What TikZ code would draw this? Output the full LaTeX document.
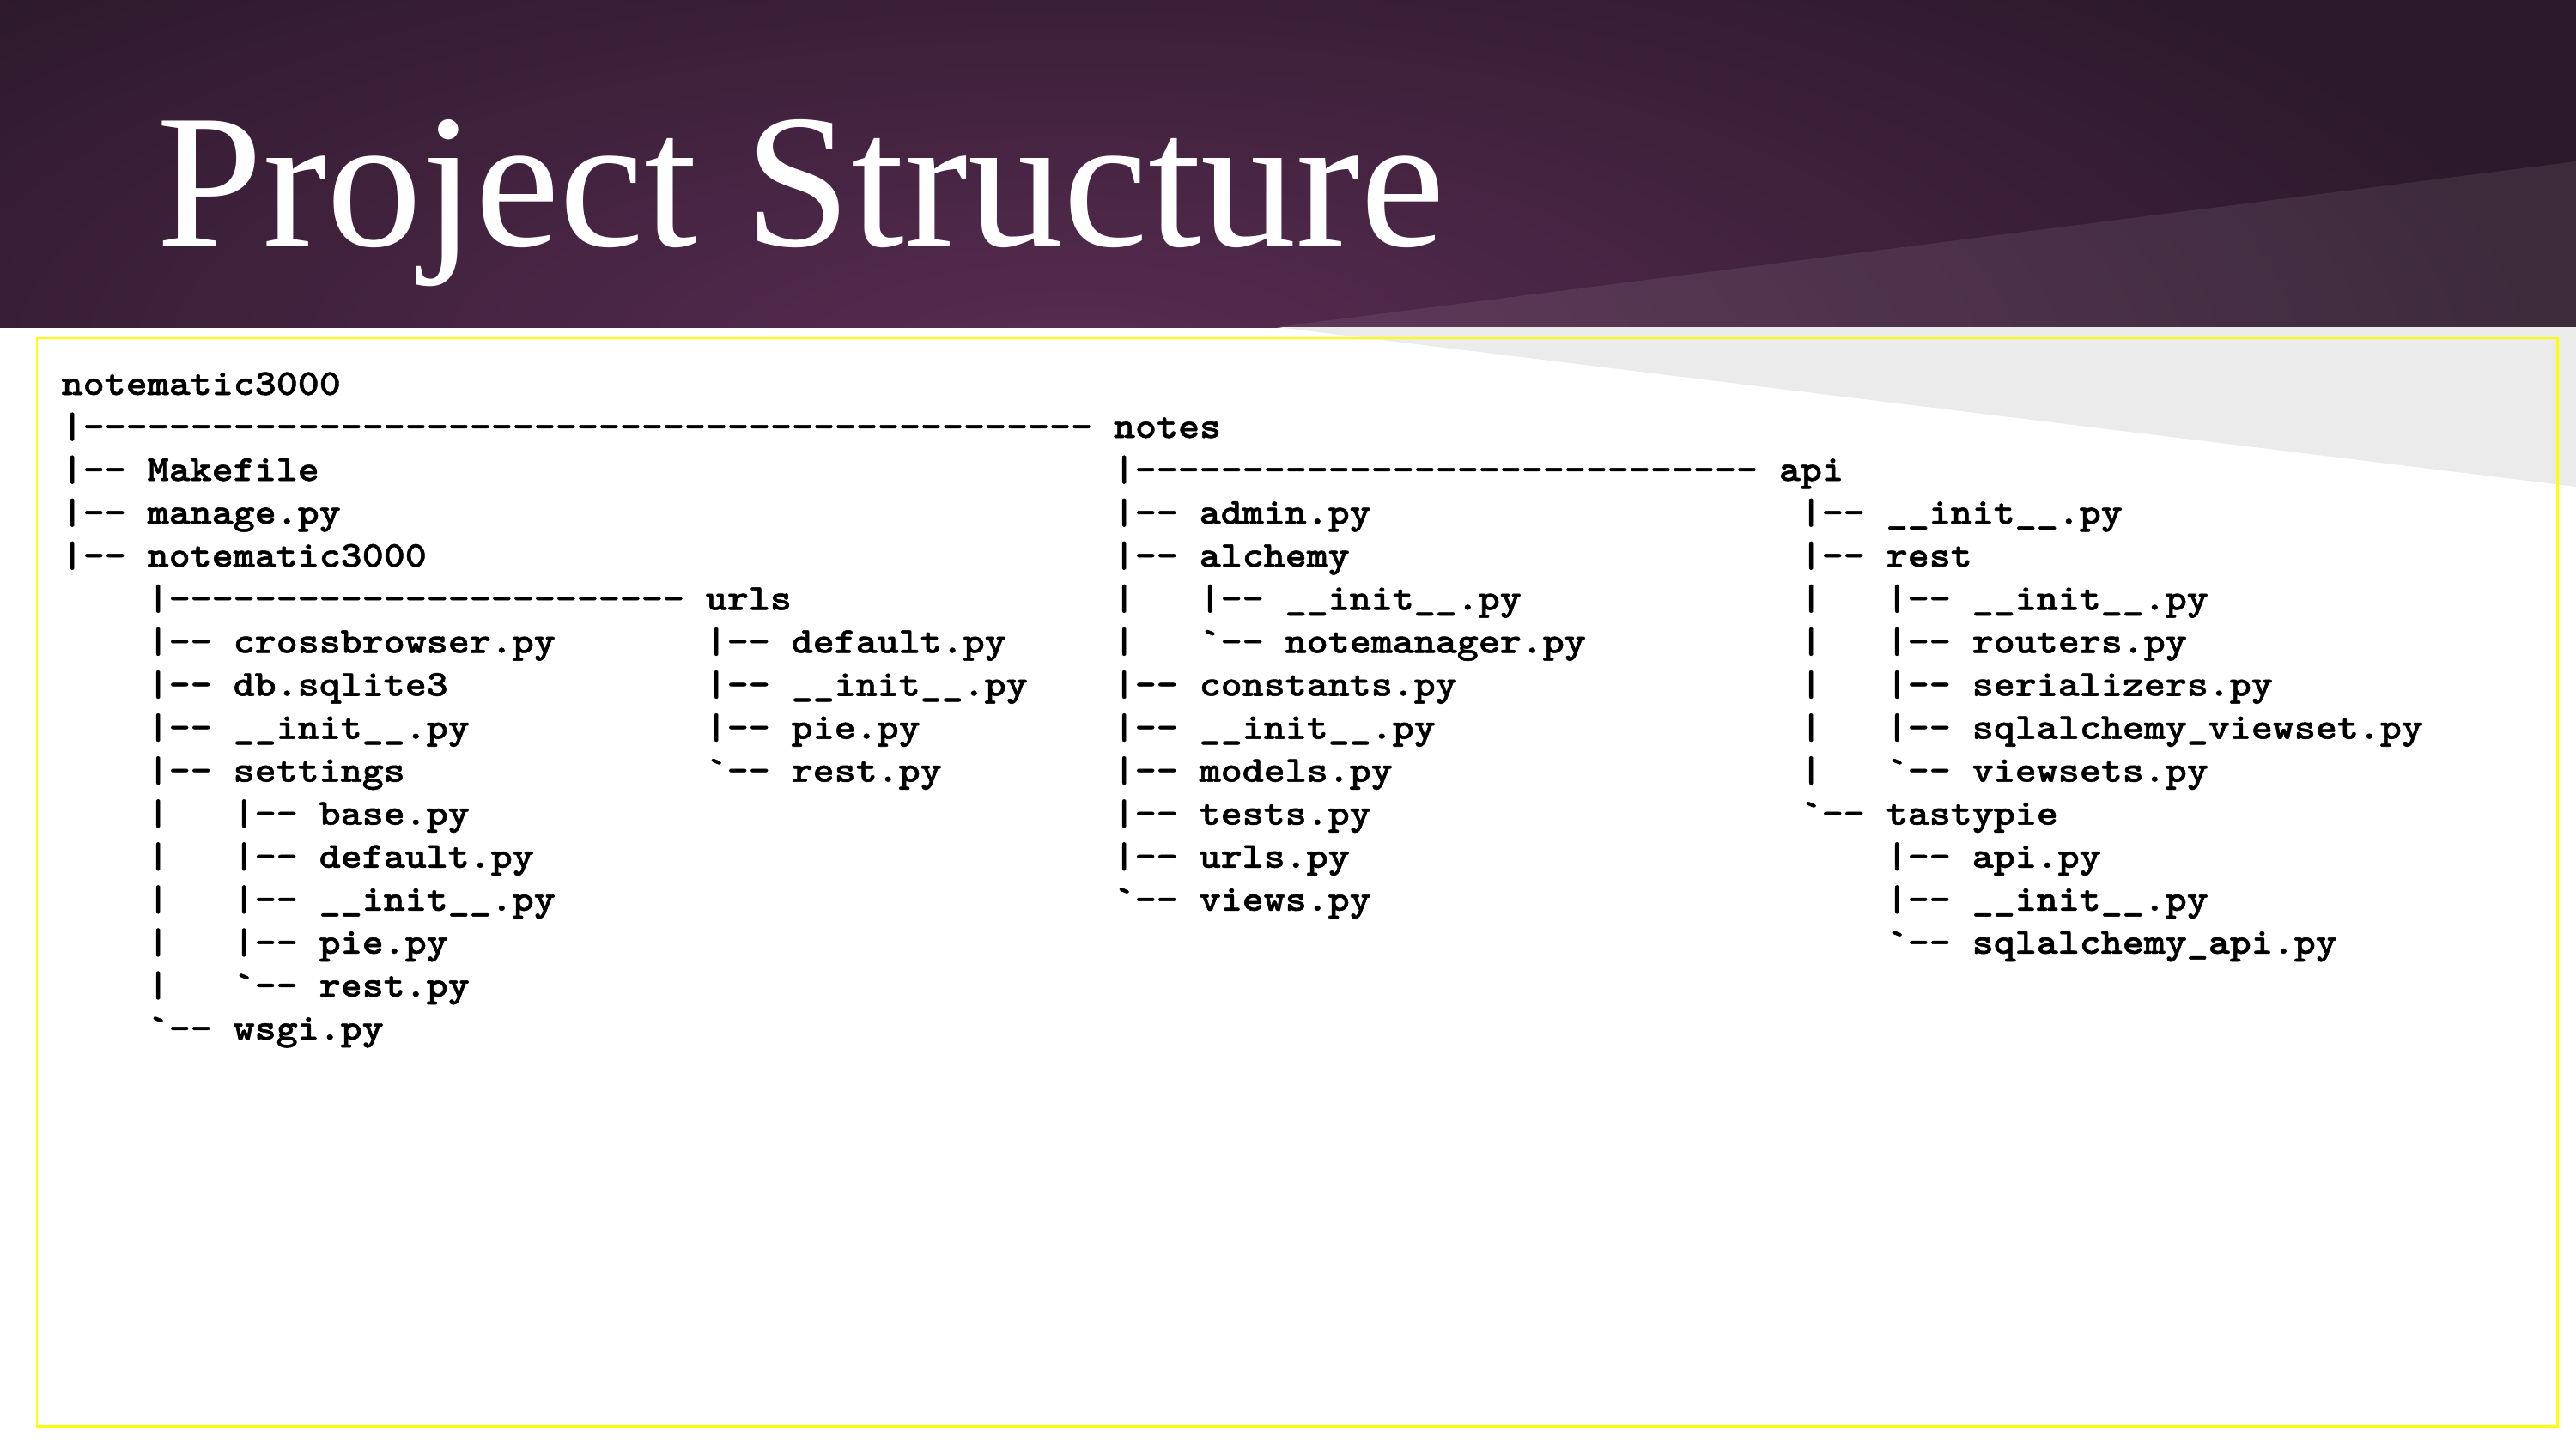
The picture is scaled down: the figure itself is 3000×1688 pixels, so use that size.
\documentclass[tikz,border=0pt]{standalone}
\usepackage{fontspec}
\setmainfont{Liberation Serif}
% typewriter face for the listing, widened to a 0.6em pitch and darkened
\newfontfamily\listfont{lmmonolt10-bold.otf}[FakeStretch=1.1204, FakeBold=1.2]
\definecolor{hdrdark}{RGB}{44,25,43}
\definecolor{hdrlight}{RGB}{88,44,82}
\definecolor{wedge}{RGB}{235,235,235}
\definecolor{frame}{RGB}{255,255,0}
\frenchspacing
% one line of the directory listing: name, column, row, text
\newcommand\treeline[4]{\node[treetext] (#1) at ({71+25*#2},{460+50.07*#3}) {#4};}
\begin{document}
\begin{tikzpicture}[x=0.01cm,y=-0.01cm,
  treetext/.style={font=\listfont\fontsize{12.09pt}{14pt}\selectfont,
    anchor=base west, inner sep=0pt, text=black},
  titletext/.style={font=\rmfamily\fontsize{63.2pt}{70pt}\selectfont,
    anchor=base west, inner sep=0pt, text=white}]
\useasboundingbox (0,0) rectangle (3000,1688);
\fill[white] (0,0) rectangle (3000,1688);
% header band
\begin{scope}
  \clip (0,0) rectangle (3000,381);
  \fill[hdrdark] (0,0) rectangle (3000,381);
  \shade[inner color=hdrlight, outer color=hdrdark] (1250,420) ellipse (1750 and 620);
  \fill[white, opacity=0.08] (1487,381) -- (3000,188) -- (3000,381) -- cycle;
\end{scope}
% light wedge below the header
\fill[wedge] (1487,381) -- (3000,381) -- (3000,567) -- cycle;
% frame around the listing
\draw[frame, line width=0.85pt] (43,394) rectangle (2978,1661);
\node[titletext] (title) at (182,287) {Project Structure};
% directory listing
\treeline{a0}{0}{0}{notematic3000}
\treeline{a1}{0}{1}{|-----------------------------------------------~notes}
\treeline{a2}{0}{2}{|--~Makefile}
\treeline{a3}{0}{3}{|--~manage.py}
\treeline{a4}{0}{4}{|--~notematic3000}
\treeline{a5}{4}{5}{|------------------------~urls}
\treeline{a6}{4}{6}{|--~crossbrowser.py}
\treeline{a7}{4}{7}{|--~db.sqlite3}
\treeline{a8}{4}{8}{|--~\_\_init\_\_.py}
\treeline{a9}{4}{9}{|--~settings}
\treeline{a10}{4}{10}{|~~~|--~base.py}
\treeline{a11}{4}{11}{|~~~|--~default.py}
\treeline{a12}{4}{12}{|~~~|--~\_\_init\_\_.py}
\treeline{a13}{4}{13}{|~~~|--~pie.py}
\treeline{a14}{4}{14}{|~~~`--~rest.py}
\treeline{a15}{4}{15}{`--~wsgi.py}
\treeline{u6}{30}{6}{|--~default.py}
\treeline{u7}{30}{7}{|--~\_\_init\_\_.py}
\treeline{u8}{30}{8}{|--~pie.py}
\treeline{u9}{30}{9}{`--~rest.py}
\treeline{n2}{49}{2}{|-----------------------------~api}
\treeline{n3}{49}{3}{|--~admin.py}
\treeline{n4}{49}{4}{|--~alchemy}
\treeline{n5}{49}{5}{|~~~|--~\_\_init\_\_.py}
\treeline{n6}{49}{6}{|~~~`--~notemanager.py}
\treeline{n7}{49}{7}{|--~constants.py}
\treeline{n8}{49}{8}{|--~\_\_init\_\_.py}
\treeline{n9}{49}{9}{|--~models.py}
\treeline{n10}{49}{10}{|--~tests.py}
\treeline{n11}{49}{11}{|--~urls.py}
\treeline{n12}{49}{12}{`--~views.py}
\treeline{p3}{81}{3}{|--~\_\_init\_\_.py}
\treeline{p4}{81}{4}{|--~rest}
\treeline{p5}{81}{5}{|~~~|--~\_\_init\_\_.py}
\treeline{p6}{81}{6}{|~~~|--~routers.py}
\treeline{p7}{81}{7}{|~~~|--~serializers.py}
\treeline{p8}{81}{8}{|~~~|--~sqlalchemy\_viewset.py}
\treeline{p9}{81}{9}{|~~~`--~viewsets.py}
\treeline{p10}{81}{10}{`--~tastypie}
\treeline{p11}{85}{11}{|--~api.py}
\treeline{p12}{85}{12}{|--~\_\_init\_\_.py}
\treeline{p13}{85}{13}{`--~sqlalchemy\_api.py}
\end{tikzpicture}
\end{document}
